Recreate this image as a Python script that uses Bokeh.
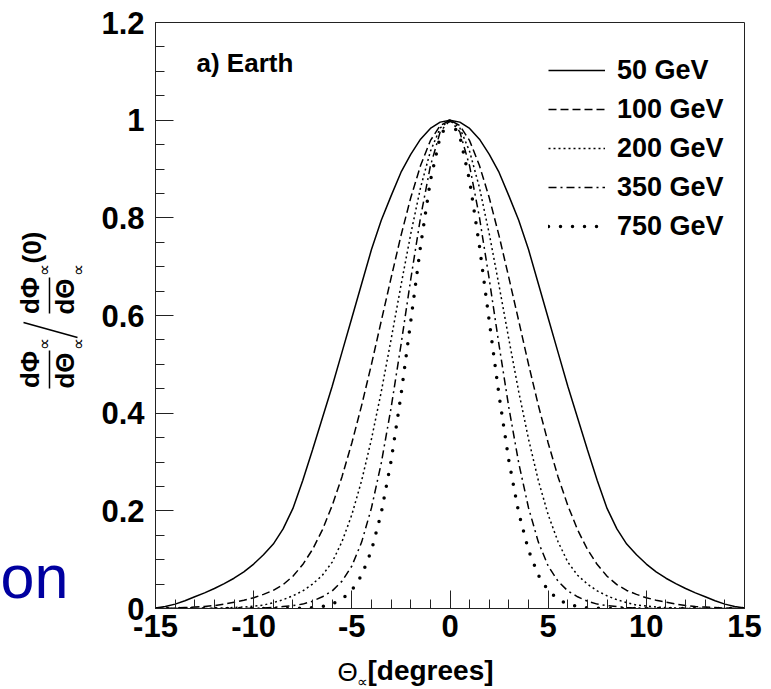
import numpy as np
from bokeh.plotting import figure
from bokeh.layouts import row, column
from bokeh.models import (Range1d, FixedTicker, Label, Legend, LegendItem,
                          PrintfTickFormatter)
from bokeh.embed import file_html
from bokeh.resources import INLINE

# ---------------- data ----------------
theta_half = [0.0, 0.5, 1.0, 1.5, 2.0, 2.5, 3.0, 3.5, 4.0, 4.5, 5.0, 5.5, 6.0, 6.5, 7.0,
              7.5, 8.0, 8.5, 9.0, 9.5, 10.0, 10.5, 11.0, 11.5, 12.0, 12.5, 13.0, 13.5,
              14.0, 14.5, 15.0]
profile_50 = [1.0, 0.996, 0.983, 0.961, 0.93, 0.893, 0.845, 0.795, 0.735, 0.665, 0.595,
              0.525, 0.455, 0.39, 0.325, 0.262, 0.205, 0.163, 0.132, 0.11, 0.091, 0.075,
              0.062, 0.051, 0.041, 0.032, 0.024, 0.016, 0.009, 0.004, 0.001]
profile_100 = [1.0, 0.989, 0.958, 0.907, 0.841, 0.763, 0.677, 0.589, 0.50, 0.416, 0.339,
               0.27, 0.211, 0.161, 0.121, 0.09, 0.066, 0.049, 0.037, 0.029, 0.022, 0.017,
               0.013, 0.009, 0.006, 0.004, 0.003, 0.002, 0.001, 0.0005, 0.0]
profile_200 = [1.0, 0.984, 0.936, 0.862, 0.767, 0.661, 0.551, 0.444, 0.347, 0.262, 0.192,
               0.137, 0.095, 0.068, 0.05, 0.036, 0.026, 0.018, 0.012, 0.007, 0.005, 0.003,
               0.002, 0.001, 0.0005, 0.0, 0.0, 0.0, 0.0, 0.0, 0.0]
profile_350 = [1.0, 0.976, 0.906, 0.801, 0.674, 0.539, 0.411, 0.298, 0.206, 0.136, 0.087,
               0.056, 0.036, 0.024, 0.015, 0.009, 0.006, 0.004, 0.002, 0.001, 0.0005, 0.0,
               0.0, 0.0, 0.0, 0.0, 0.0, 0.0, 0.0, 0.0, 0.0]
profile_750 = [1.0, 0.967, 0.876, 0.742, 0.588, 0.436, 0.302, 0.196, 0.119, 0.068, 0.037,
               0.019, 0.009, 0.004, 0.0015, 0.0005, 0.0, 0.0, 0.0, 0.0, 0.0, 0.0, 0.0, 0.0,
               0.0, 0.0, 0.0, 0.0, 0.0, 0.0, 0.0]
energies = ["50 GeV", "100 GeV", "200 GeV", "350 GeV", "750 GeV"]
x_ticks = [-15, -10, -5, 0, 5, 10, 15]
x_minor = list(range(-15, 16))
y_ticks = [0, 0.2, 0.4, 0.6, 0.8, 1.0, 1.2]
y_minor = [round(i * 0.05, 2) for i in range(25)]

# the curves are symmetric about 0
theta = [-t for t in theta_half[::-1]] + theta_half[1:]
def full(h):
    return h[::-1] + h[1:]
profiles = [full(profile_50), full(profile_100), full(profile_200),
            full(profile_350), full(profile_750)]

FONT = "Liberation Sans"
W, H = 771, 689
LEFT_W = 92          # strip holding the y-axis title
BOT_H = 34           # strip holding the x-axis title
MAIN_W, MAIN_H = W - LEFT_W, H - BOT_H
FR_L, FR_R = 155, 744   # frame edges in page pixels
BORDER_L = FR_L - LEFT_W
BORDER_R = W - FR_R

# ---------------- main plot ----------------
p = figure(width=MAIN_W, height=MAIN_H, output_backend="svg", toolbar_location=None,
           x_range=Range1d(-15, 15), y_range=Range1d(0, 1.2),
           min_border_left=BORDER_L, min_border_right=BORDER_R, min_border_top=22,
           min_border_bottom=MAIN_H - 608)
p.grid.visible = False
p.outline_line_color = "#222222"
p.outline_line_width = 1
p.background_fill_color = "white"
p.border_fill_color = "white"

styles = [
    dict(line_dash="solid", line_width=1.5),
    dict(line_dash="8 4", line_width=1.5),
    dict(line_dash="2 3", line_width=1.5),
    dict(line_dash="8 4 2 4", line_width=1.5),
    dict(line_dash="0 12", line_width=3.5, line_cap="round"),
]
renderers = []
for prof, st in zip(profiles, styles):
    renderers.append(p.line(theta, prof, line_color="black", **st))

p.xaxis.ticker = FixedTicker(ticks=x_ticks, minor_ticks=x_minor)
p.yaxis.ticker = FixedTicker(ticks=y_ticks, minor_ticks=y_minor)
for ax in (p.xaxis[0], p.yaxis[0]):
    ax.formatter = PrintfTickFormatter(format="%g")
    ax.major_tick_in = 18
    ax.major_tick_out = 0
    ax.minor_tick_in = 9
    ax.minor_tick_out = 0
    ax.axis_line_color = "#222222"
    ax.major_tick_line_color = "#222222"
    ax.minor_tick_line_color = "#222222"
    ax.major_label_text_font = FONT
    ax.major_label_text_font_style = "bold"
    ax.major_label_text_font_size = "31px"
    ax.major_label_text_color = "black"
p.xaxis.major_label_standoff = 6
p.yaxis.major_label_standoff = 11

legend = Legend(items=[LegendItem(label=e, renderers=[r]) for e, r in zip(energies, renderers)],
                location=(393, 364), padding=0, margin=0, spacing=3,
                glyph_width=57, glyph_height=36, label_height=36, label_standoff=12,
                border_line_alpha=0, background_fill_alpha=0,
                label_text_font=FONT, label_text_font_style="bold",
                label_text_font_size="27px", label_text_color="black")
p.add_layout(legend)

# "a) Earth" inside the frame (position given in page pixels)
X0, XS = 449.5, 589.0 / 30.0
Y0, YS = 608.0, 586.0 / 1.2
p.add_layout(Label(x=(196 - X0) / XS, y=(Y0 - 62) / YS, text="a) Earth", text_font=FONT,
                   text_font_size="26px", text_font_style="bold", text_align="left",
                   text_baseline="alphabetic", text_color="black"))

# ---------------- helper strips (coordinates = page pixels) ----------------
def strip(w, h, xr, yr, bl=0, br=0):
    f = figure(width=w, height=h, output_backend="svg", toolbar_location=None,
               x_range=Range1d(*xr), y_range=Range1d(*yr), min_border=0,
               min_border_left=bl, min_border_right=br, min_border_top=0,
               min_border_bottom=0, x_axis_location=None, y_axis_location=None)
    f.outline_line_color = None
    f.background_fill_color = "white"
    f.border_fill_color = "white"
    f.grid.visible = False
    return f

def lab(f, x, y, text, size, style="bold", align="left", baseline="alphabetic",
        angle=0.0, color="black"):
    f.add_layout(Label(x=x, y=y, text=text, text_font=FONT, text_font_size=size,
                       text_font_style=style, text_align=align, text_baseline=baseline,
                       angle=angle, text_color=color))

def ly(py):
    return H - py

# left strip: y-axis title and the clipped slide text
pl = strip(LEFT_W, H, (0, LEFT_W), (0, H))
A = np.pi / 2
# lower fraction  dPhi/dTheta
lab(pl, 29, ly(369), "d\u03a6", "26px", align="center", baseline="middle", angle=A)
lab(pl, 44, ly(343), "\u221d", "17px", style="normal", align="center", baseline="middle", angle=A)
lab(pl, 64, ly(370), "d\u0398", "26px", align="center", baseline="middle", angle=A)
lab(pl, 78, ly(343), "\u221d", "17px", style="normal", align="center", baseline="middle", angle=A)
# upper fraction  dPhi/dTheta (0)
lab(pl, 29, ly(295), "d\u03a6", "26px", align="center", baseline="middle", angle=A)
lab(pl, 44, ly(269), "\u221d", "17px", style="normal", align="center", baseline="middle", angle=A)
lab(pl, 64, ly(296), "d\u0398", "26px", align="center", baseline="middle", angle=A)
lab(pl, 78, ly(269), "\u221d", "17px", style="normal", align="center", baseline="middle", angle=A)
lab(pl, 31, ly(247), "(0)", "26px", align="center", baseline="middle", angle=A)
# fraction bars and slash
pl.segment(x0=[49, 49, 23], y0=[ly(350), ly(277), ly(322)],
           x1=[49, 49, 77], y1=[ly(388), ly(313), ly(337)],
           line_color="black", line_width=1.5)
# slide text in blue at the left edge
lab(pl, 0, ly(576), "on", "61px", style="normal", color="#0000a0")

# bottom strip: x-axis title (frame aligned with the main frame)
pb = strip(MAIN_W, BOT_H, (FR_L, FR_R), (0, BOT_H), bl=BORDER_L, br=BORDER_R)
lab(pb, 337, ly(671), "\u0398", "26px", style="normal")
lab(pb, 356, ly(681), "\u221d", "15px", style="normal")
lab(pb, 367, ly(670), "[degrees]", "28px")

layout = row(pl, column(p, pb, spacing=0), spacing=0)
open("out.html", "w").write(file_html(layout, INLINE))
